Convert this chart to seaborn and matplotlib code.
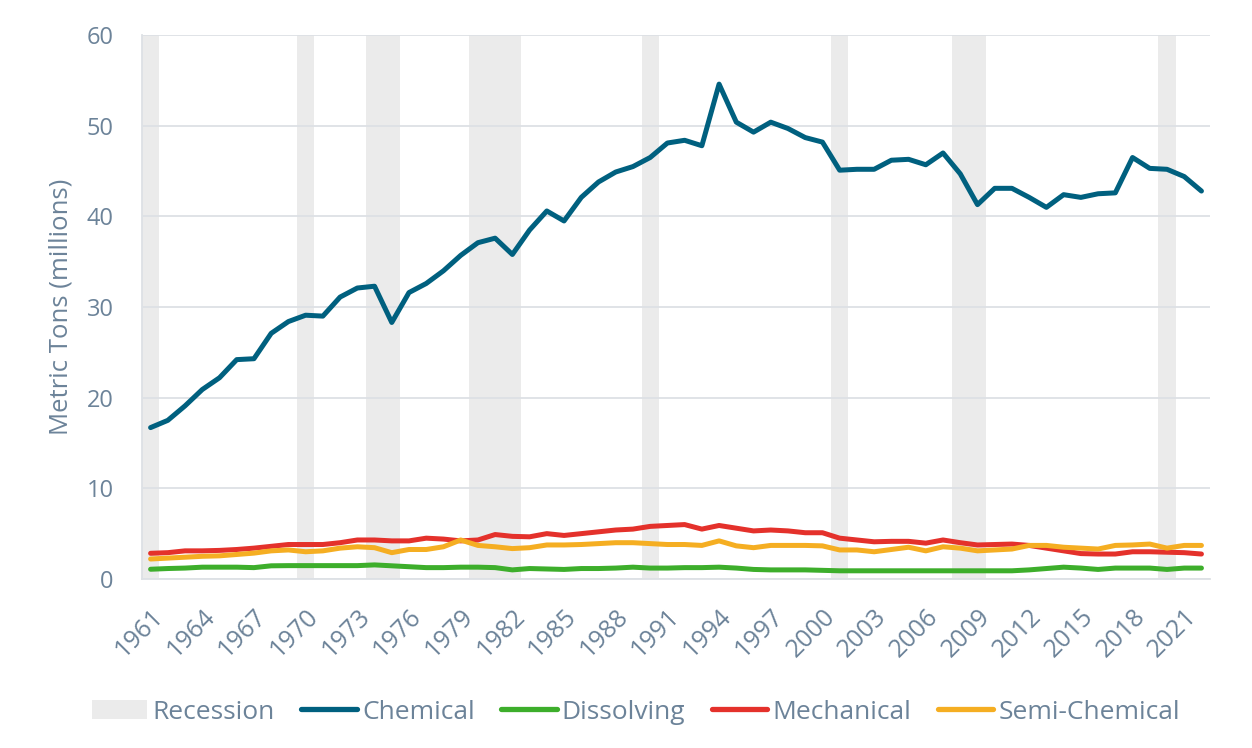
import matplotlib
matplotlib.use("Agg")
import matplotlib.pyplot as plt
from matplotlib.patches import Patch
from matplotlib.lines import Line2D
from matplotlib.ticker import MultipleLocator
import seaborn as sns
import pandas as pd

years = list(range(1961, 2023))

chemical = [16.7, 17.5, 19.1, 20.9, 22.2, 24.2, 24.3, 27.1, 28.4, 29.1,
            29.0, 31.1, 32.1, 32.3, 28.3, 31.6, 32.6, 34.0, 35.7, 37.1,
            37.6, 35.8, 38.5, 40.6, 39.5, 42.1, 43.8, 44.9, 45.5, 46.5,
            48.1, 48.4, 47.8, 54.6, 50.4, 49.3, 50.4, 49.7, 48.7, 48.2,
            45.1, 45.2, 45.2, 46.2, 46.3, 45.7, 47.0, 44.7, 41.3, 43.1,
            43.1, 42.1, 41.0, 42.4, 42.1, 42.5, 42.6, 46.5, 45.3, 45.2,
            44.4, 42.8]

dissolving = [1.07, 1.15, 1.2, 1.3, 1.3, 1.3, 1.25, 1.45, 1.47, 1.47,
              1.47, 1.47, 1.47, 1.55, 1.45, 1.35, 1.25, 1.25, 1.3, 1.3,
              1.25, 1.0, 1.15, 1.1, 1.05, 1.15, 1.15, 1.2, 1.3, 1.2,
              1.2, 1.25, 1.25, 1.3, 1.2, 1.05, 1.0, 1.0, 1.0, 0.95,
              0.9, 0.9, 0.9, 0.9, 0.9, 0.9, 0.9, 0.9, 0.9, 0.9,
              0.9, 1.0, 1.15, 1.3, 1.2, 1.05, 1.2, 1.2, 1.2, 1.05,
              1.2, 1.2]

mechanical = [2.83, 2.9, 3.1, 3.1, 3.15, 3.25, 3.4, 3.6, 3.8, 3.8,
              3.8, 4.0, 4.3, 4.3, 4.2, 4.2, 4.5, 4.4, 4.2, 4.3,
              4.9, 4.7, 4.65, 5.0, 4.8, 5.0, 5.2, 5.4, 5.5, 5.8,
              5.9, 6.0, 5.5, 5.9, 5.6, 5.3, 5.4, 5.3, 5.1, 5.1,
              4.5, 4.3, 4.1, 4.15, 4.15, 3.95, 4.3, 4.0, 3.75, 3.8,
              3.85, 3.7, 3.4, 3.1, 2.8, 2.75, 2.75, 3.0, 3.0, 2.95,
              2.9, 2.75]

semi_chemical = [2.2, 2.3, 2.4, 2.5, 2.55, 2.7, 2.85, 3.1, 3.2, 3.0,
                 3.1, 3.4, 3.55, 3.45, 2.9, 3.25, 3.25, 3.55, 4.3, 3.7,
                 3.55, 3.35, 3.45, 3.75, 3.75, 3.8, 3.9, 4.0, 4.0, 3.9,
                 3.8, 3.8, 3.7, 4.2, 3.65, 3.45, 3.7, 3.7, 3.7, 3.65,
                 3.2, 3.2, 3.0, 3.25, 3.5, 3.1, 3.55, 3.4, 3.1, 3.2,
                 3.3, 3.7, 3.7, 3.5, 3.4, 3.3, 3.7, 3.75, 3.85, 3.4,
                 3.7, 3.7]

recession_years = [1961, 1970, 1974, 1975, 1980, 1981, 1982, 1990,
                   2001, 2008, 2009, 2020]

series_names = ["Chemical", "Dissolving", "Mechanical", "Semi-Chemical"]
colors = {"Chemical": "#00607F", "Dissolving": "#3DAE2B",
          "Mechanical": "#E4312B", "Semi-Chemical": "#F5AE22"}
text_color = "#6C8399"
grid_color = "#DDE1E5"
band_color = "#EBEBEB"

df = pd.DataFrame({"Year": years, "Chemical": chemical, "Dissolving": dissolving,
                   "Mechanical": mechanical, "Semi-Chemical": semi_chemical})
long_df = df.melt(id_vars="Year", var_name="Type", value_name="Tons")

sns.set_style("white")
plt.rcParams["font.family"] = ["Open Sans", "DejaVu Sans"]

fig = plt.figure(figsize=(12.52, 7.48), dpi=100)
ax = fig.add_axes([0.1134, 0.226, 0.8531, 0.727])

for yr in recession_years:
    ax.axvspan(yr - 0.5, yr + 0.5, color=band_color, lw=0, zorder=0)

sns.lineplot(data=long_df, x="Year", y="Tons", hue="Type", hue_order=series_names,
             palette=colors, linewidth=3.6, legend=False, ax=ax,
             solid_capstyle="round", solid_joinstyle="round", zorder=3)

ax.set_xlim(1960.5, 2022.5)
ax.set_ylim(0, 60)
ax.yaxis.set_major_locator(MultipleLocator(10))
ax.grid(axis="y", color=grid_color, linewidth=1.3, zorder=1)
ax.set_axisbelow(True)

for s in ["top", "right"]:
    ax.spines[s].set_visible(False)
for s in ["left", "bottom"]:
    ax.spines[s].set_color(grid_color)
    ax.spines[s].set_linewidth(1.3)

ax.set_xticks(years[::3])
ax.set_xticklabels([str(y) for y in years[::3]], rotation=45, ha="right",
                   rotation_mode="anchor", fontsize=18, color=text_color)
ax.set_xticks([y + 0.5 for y in range(1960, 2023)], minor=True)
ax.tick_params(axis="x", which="major", length=0, pad=18)
ax.tick_params(axis="x", which="minor", length=7, width=1.3, color=grid_color)
ax.tick_params(axis="y", length=6.5, width=1.3, color=grid_color, pad=14,
               labelsize=17, labelcolor=text_color)

ax.set_xlabel("")
ax.set_ylabel("Metric Tons (millions)", fontsize=18.5, color=text_color, labelpad=9)

handles = [Patch(facecolor=band_color, edgecolor="none", label="Recession")]
for name in series_names:
    handles.append(Line2D([0], [0], color=colors[name], lw=3.8,
                          solid_capstyle="round", label=name))
fig.legend(handles=handles, loc="center", bbox_to_anchor=(0.508, 0.048), ncol=5,
           frameon=False, fontsize=19, labelcolor=text_color,
           handlelength=2.1, handletextpad=0.2, columnspacing=1.0)

fig.savefig("out.png", dpi=100)
